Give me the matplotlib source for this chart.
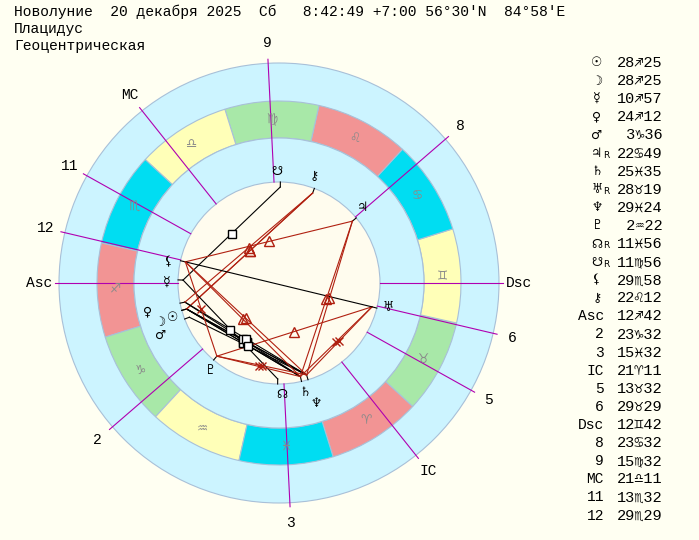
import numpy as np
import matplotlib
matplotlib.use("Agg")
import matplotlib.pyplot as plt
from matplotlib.patches import Wedge, Circle

# ---------------- data ----------------
header = ["Новолуние  20 декабря 2025  Сб   8:42:49 +7:00 56°30'N  84°58'E",
          "Плацидус", "Геоцентрическая"]
planet_names = ["Sun", "Moon", "Mercury", "Venus", "Mars", "Jupiter", "Saturn", "Uranus",
                "Neptune", "Pluto", "NNode", "SNode", "Lilith", "Chiron"]
planet_glyphs = ["☉", "☽", "☿", "♀", "♂", "♃", "♄", "♅", "♆", "♇", "☊", "☋", "⚸", "⚷"]
planet_retro = ["", "", "", "", "", "R", "", "R", "", "", "R", "R", "", ""]
planet_lon = [268.42, 268.42, 250.95, 264.20, 273.60, 112.82, 355.58, 58.32,
              359.40, 302.37, 341.93, 161.93, 239.97, 142.20]
planet_text = ["28♐25", "28♐25", "10♐57", "24♐12", " 3♑36", "22♋49", "25♓35", "28♉19",
               "29♓24", " 2♒22", "11♓56", "11♍56", "29♏58", "22♌12"]
cusp_labels = ["Asc", "2", "3", "IC", "5", "6", "Dsc", "8", "9", "MC", "11", "12"]
cusp_lon = [252.70, 293.53, 345.53, 21.18, 43.53, 59.48, 72.70, 113.53, 165.53,
            201.18, 223.53, 239.48]
cusp_text = ["12♐42", "23♑32", "15♓32", "21♈11", "13♉32", "29♉29", "12♊42", "23♋32",
             "15♍32", "21♎11", "13♏32", "29♏29"]
sign_glyphs = ["♈", "♉", "♊", "♋", "♌", "♍", "♎", "♏", "♐", "♑", "♒", "♓"]
aspect_orbs = {180: 8.0, 120: 8.0, 90: 8.0, 60: 7.0}
skip_pairs = [{"NNode", "SNode"}, {"Chiron", "Uranus"}, {"Sun", "Moon"},
              {"Jupiter", "Uranus"}, {"Chiron", "Lilith"}]

# ---------------- style ----------------
bg = "#FFFFF2"
elem_col = {0: "#F29494", 1: "#A8E8A8", 2: "#FFFFB8", 3: "#00DDF2"}
ring_col = "#CCF4FF"
house_col = "#B000B0"
edge = "#A8C0D8"
cx, cy = 279, 283
R_out, R_zo, R_zi, R_in = 220, 182, 145, 101

fig = plt.figure(figsize=(6.99, 5.40), dpi=100, facecolor=bg)
ax = fig.add_axes([0, 0, 1, 1])
ax.set_xlim(0, 699); ax.set_ylim(540, 0); ax.axis("off")

asc = cusp_lon[0]
def ang(lon):
    return np.deg2rad(180 + (lon - asc))
def pt(lon, r):
    a = ang(lon)
    return cx + r*np.cos(a), cy - r*np.sin(a)

ax.add_patch(Circle((cx, cy), R_out, fc=ring_col, ec=edge, lw=0.8, zorder=1))
for i in range(12):
    a1 = 180 + (i*30 - asc); a2 = a1 + 30
    ax.add_patch(Wedge((cx, cy), R_zo, -a2, -a1, width=R_zo-R_zi,
                       fc=elem_col[i % 4], ec=edge, lw=0.8, zorder=2))
    x, y = pt(i*30 + 15, (R_zo+R_zi)/2)
    ax.text(x, y, sign_glyphs[i], ha="center", va="center", fontsize=9,
            family="DejaVu Sans", color="#8a8a8a", zorder=5)
ax.add_patch(Circle((cx, cy), R_zi, fc=ring_col, ec=edge, lw=0.8, zorder=2))
ax.add_patch(Circle((cx, cy), R_in, fc="#FFFCEE", ec=edge, lw=0.8, zorder=3))

for lab, lon in zip(cusp_labels, cusp_lon):
    x1, y1 = pt(lon, R_in); x2, y2 = pt(lon, R_out + 4)
    ax.plot([x1, x2], [y1, y2], color=house_col, lw=0.8, zorder=4)
    x, y = pt(lon, R_out + 20)
    ax.text(x, y, lab, ha="center", va="center", fontsize=10.5,
            family="Liberation Mono", zorder=5)

# glyph layout (display radius / angular nudge)
glyph_r = {n: 112 for n in planet_names}
glyph_da = {n: 2 for n in planet_names}
glyph_r.update({"Moon": 125, "Venus": 135, "Mars": 130, "Neptune": 126})
glyph_da.update({"Moon": 2.6, "Venus": 0.8, "Mars": 3.0, "Saturn": 0.4, "Neptune": 0.3})

for n, g, lon in zip(planet_names, planet_glyphs, planet_lon):
    x1, y1 = pt(lon, R_in); x2, y2 = pt(lon, R_in - 5)
    ax.plot([x1, x2], [y1, y2], color="black", lw=0.8, zorder=6)
    x, y = pt(lon + glyph_da[n], glyph_r[n])
    ax.text(x, y, g, ha="center", va="center", fontsize=9,
            family="DejaVu Sans", zorder=7)

# aspects
for i in range(len(planet_lon)):
    for j in range(i+1, len(planet_lon)):
        if {planet_names[i], planet_names[j]} in skip_pairs:
            continue
        d = abs(planet_lon[i] - planet_lon[j]) % 360
        d = min(d, 360 - d)
        for A, orb in aspect_orbs.items():
            if abs(d - A) <= orb:
                col = "black" if A in (180, 90) else "#B02010"
                x1, y1 = pt(planet_lon[i], R_in - 5)
                x2, y2 = pt(planet_lon[j], R_in - 5)
                ax.plot([x1, x2], [y1, y2], color=col, lw=0.8, zorder=6)
                mx, my = (x1+x2)/2, (y1+y2)/2
                if A == 90:
                    ax.plot(mx, my, marker="s", ms=6, mfc="white", mec="black", mew=1, zorder=7)
                elif A == 120:
                    ax.plot(mx, my, marker="^", ms=7, mfc="none", mec=col, mew=1, zorder=7)
                elif A == 60:
                    ax.plot(mx, my, marker="x", ms=6, mec=col, mew=1, zorder=7)
                break

# header
for k, t in enumerate(header):
    ax.text(14, 12 + k*17, t, ha="left", va="center", fontsize=10.5,
            family=["Liberation Mono", "DejaVu Sans Mono"])

# right table
for k, (g, r, t) in enumerate(zip(planet_glyphs, planet_retro, planet_text)):
    y = 63 + k*18.1
    ax.text(597, y, g, ha="center", va="center", fontsize=9, family="DejaVu Sans")
    if r:
        ax.text(603, y + 2, r, ha="left", va="center", fontsize=6.5, family="DejaVu Sans")
    ax.text(617, y, t, ha="left", va="center", fontsize=11,
            family=["Liberation Mono", "DejaVu Sans Mono", "DejaVu Sans"])
for k, (lab, t) in enumerate(zip(cusp_labels, cusp_text)):
    y = 63 + (k + len(planet_text))*18.1
    ax.text(604, y, lab, ha="right", va="center", fontsize=10.5, family="Liberation Mono")
    ax.text(617, y, t, ha="left", va="center", fontsize=11,
            family=["Liberation Mono", "DejaVu Sans Mono", "DejaVu Sans"])

fig.savefig("out.png", dpi=100, facecolor=bg)
